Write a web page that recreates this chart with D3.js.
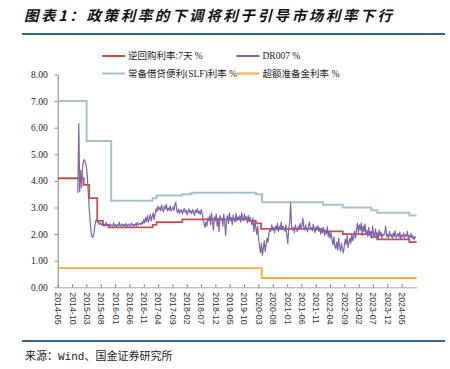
<!DOCTYPE html>
<html lang="zh">
<head>
<meta charset="UTF-8">
<title>政策利率的下调将利于引导市场利率下行</title>
<script src="https://d3js.org/d3.v7.min.js"></script>
<style>
  body { margin: 0; background: #fff; }
  svg { display: block; }
</style>
</head>
<body>
<svg width="450" height="369"></svg>
<script>

// 7天逆回购利率 (调整日期, %)
const repoDates = ["2014-05-01", "2015-02-01", "2015-04-01", "2015-06-25", "2015-08-25", "2015-10-23",
  "2017-02-03", "2017-03-16", "2017-12-14", "2019-11-18", "2020-02-03", "2020-03-30",
  "2022-01-17", "2022-08-15", "2023-06-13", "2023-08-15", "2024-07-22"];
const repoValues = [4.10, 3.85, 3.35, 2.50, 2.35, 2.25, 2.35, 2.45, 2.55, 2.50, 2.40, 2.20,
  2.10, 2.00, 1.90, 1.80, 1.70];

// 常备借贷便利(SLF)利率
const slfDates = ["2014-05-01", "2015-03-04", "2015-11-20", "2017-02-03", "2017-03-16", "2017-12-14",
  "2018-03-22", "2020-02-03", "2020-04-10", "2022-01-17", "2022-08-15", "2023-06-13",
  "2023-08-15", "2024-07-22"];
const slfValues = [7.00, 5.50, 3.25, 3.35, 3.45, 3.50, 3.55, 3.50, 3.20, 3.10, 3.00, 2.90, 2.80, 2.70];

// 超额准备金利率
const excessDates = ["2014-05-01", "2020-04-07"];
const excessValues = [0.72, 0.35];

// DR007, 每10天读取一次
const drStart = "2014-12-01";
const drStepDays = 10;
const drValues = [
  3.55, 6.15, 3.6, 4.4, 3.75, 4.5, 4.75, 4.8, 4.7, 4.55, 4.2, 3.6, 3.0, 2.5, 2.1, 1.9, 1.88, 2.0, 2.3, 2.5,
  2.55, 2.42, 2.48, 2.36, 2.42, 2.35,
  2.40, 2.31, 2.36, 2.30, 2.44, 2.32, 2.35, 2.29, 2.38, 2.31, 2.34, 2.30, 2.42, 2.31, 2.36, 2.28, 2.35, 2.32,
  2.45, 2.30, 2.33, 2.38, 2.30, 2.36, 2.31, 2.40, 2.29, 2.34, 2.37, 2.30, 2.35, 2.42, 2.31, 2.36, 2.33, 2.39,
  2.30, 2.44, 2.34, 2.38, 2.41, 2.35,
  2.45, 2.38, 2.55, 2.42, 2.62, 2.48, 2.70, 2.45, 2.58, 2.75, 2.50, 2.66, 2.80, 2.55,
  2.70, 2.95, 2.85, 3.05, 2.92,
  3.00, 2.88, 3.10, 2.92, 2.84, 3.05, 2.95, 3.12, 2.87, 2.98, 2.90, 3.06, 2.86, 2.95, 3.02, 2.88, 3.10, 3.20,
  2.90, 2.80, 2.95, 2.78, 2.88, 2.92, 2.75, 2.86, 2.97, 2.82, 2.90, 2.72, 2.85, 2.95, 2.80, 2.88, 2.76, 2.93,
  2.84, 2.70, 2.90, 2.82, 2.96, 2.78, 2.86, 2.74, 2.92, 2.80,
  2.55, 2.40, 2.25, 2.45, 2.30, 2.60, 2.50,
  2.70, 2.35, 2.80, 2.45, 2.15, 2.65, 2.50, 2.75, 2.30, 2.60, 2.10, 2.70, 2.55,
  2.60, 2.30, 2.75, 2.45, 1.95, 2.55, 2.70, 2.40, 2.80, 2.50, 2.62, 2.35, 2.72, 2.55, 2.45, 2.78, 2.50, 2.65,
  2.55, 2.70, 2.45, 2.80, 2.60, 2.50, 2.75, 2.58, 2.65, 2.42, 2.70, 2.55, 2.62, 2.48,
  2.35, 2.60, 2.10, 2.45, 2.25, 2.00, 2.30,
  1.80, 1.55, 1.30, 1.65, 1.20, 1.45, 1.75, 1.35, 1.60, 1.85, 1.70,
  2.05, 2.20, 2.10, 2.35, 2.15, 2.25, 2.05, 2.30, 2.18, 2.40, 2.10, 2.28, 2.20, 2.45, 2.15, 2.30, 2.22, 2.10,
  2.35, 1.95, 1.65,
  2.20, 2.45, 3.17,
  2.30, 2.15, 2.25, 2.05, 2.35, 2.20, 2.10, 2.28, 2.18, 2.40, 2.22, 2.30, 2.60, 2.25, 2.15, 2.35, 2.20, 2.08,
  2.30, 2.45, 2.18, 2.25, 2.12, 2.38, 2.20, 2.05, 2.28, 2.15, 2.32, 2.10, 2.24, 2.00,
  2.20, 2.05, 2.25, 1.95, 2.15, 2.00, 2.28, 1.90, 2.10, 1.85, 2.05,
  1.75, 1.60, 1.90, 1.55, 1.45, 1.70, 1.40, 1.85, 1.50, 1.35, 1.65, 1.45, 1.29, 1.55, 1.80, 1.60, 1.95, 1.50,
  1.70, 1.85, 1.65, 2.00, 1.75, 1.90, 2.10, 1.85,
  2.20, 2.40, 2.05, 2.35, 2.15, 2.42, 1.95, 2.30, 2.10, 2.38, 2.00,
  2.15, 1.90, 2.25, 1.95, 2.10, 1.85, 2.30, 2.00, 1.88, 2.20, 1.95, 2.05, 1.82, 2.15, 1.92, 2.08, 1.85, 2.00,
  1.95, 2.05, 2.30, 1.90, 2.00, 1.85, 2.10, 1.92, 1.98, 1.84, 2.05, 1.90, 2.12, 1.86, 1.95, 2.02, 1.88, 2.08,
  1.82, 1.96, 1.90, 2.05, 1.85, 1.98, 1.92, 2.10, 1.80, 1.95, 1.88, 2.02, 1.84, 1.93, 1.78, 1.90, 1.86
];

const tickLabels = ["2014-05", "2014-10", "2015-03", "2015-08", "2016-01", "2016-06", "2016-11", "2017-04",
  "2017-09", "2018-02", "2018-07", "2018-12", "2019-05", "2019-10", "2020-03", "2020-08", "2021-01",
  "2021-06", "2021-11", "2022-04", "2022-09", "2023-02", "2023-07", "2023-12", "2024-05"];
const yTicks = [0, 1, 2, 3, 4, 5, 6, 7, 8];

const startDate = "2014-05-01";
const endDate = "2024-10-08";

const parse = d3.timeParse("%Y-%m-%d");
const parseMonth = d3.timeParse("%Y-%m");

const svg = d3.select("svg");
const serif = "'Liberation Serif', 'Noto Sans CJK SC', serif";
const cjk = "'Noto Sans CJK SC', sans-serif";

// title and rules
svg.append("text")
    .attr("x", 24).attr("y", 21)
    .attr("font-family", cjk)
    .attr("font-size", 14.5)
    .attr("font-weight", "bold")
    .attr("font-style", "italic")
    .attr("letter-spacing", 2.6)
    .attr("fill", "#111")
    .text("图表1：政策利率的下调将利于引导市场利率下行");

svg.append("line")
    .attr("x1", 22).attr("x2", 445).attr("y1", 34).attr("y2", 34)
    .attr("stroke", "#36648b").attr("stroke-width", 2);

svg.append("line")
    .attr("x1", 22).attr("x2", 445).attr("y1", 341).attr("y2", 341)
    .attr("stroke", "#36648b").attr("stroke-width", 2);

svg.append("text")
    .attr("x", 25).attr("y", 360)
    .attr("font-family", "'Liberation Mono', 'Noto Sans CJK SC', monospace")
    .attr("font-size", 11)
    .attr("fill", "#222")
    .text("来源：Wind、国金证券研究所");

// scales
const x = d3.scaleTime()
    .domain([parse(startDate), parse(endDate)])
    .range([57.7, 416.7]);
const y = d3.scaleLinear().domain([0, 8]).range([287.3, 74.5]);

// step series
function stepSeries(dates, values) {
    const pts = dates.map((d, i) => ({ date: parse(d), value: values[i] }));
    pts.push({ date: parse(endDate), value: values[values.length - 1] });
    return pts;
}

const repo = stepSeries(repoDates, repoValues);
const slf = stepSeries(slfDates, slfValues);
const excess = stepSeries(excessDates, excessValues);
const dr007 = drValues.map((v, i) => ({
    date: d3.timeDay.offset(parse(drStart), i * drStepDays),
    value: v
}));

const stepLine = d3.line().x(d => x(d.date)).y(d => y(d.value)).curve(d3.curveStepAfter);
const plainLine = d3.line().x(d => x(d.date)).y(d => y(d.value));

// axes
const yAxis = svg.append("g")
    .attr("transform", "translate(57.7,0)")
    .call(d3.axisLeft(y).tickValues(yTicks).tickFormat(d3.format(".2f"))
        .tickSizeInner(3).tickSizeOuter(0).tickPadding(7));
yAxis.select(".domain").attr("stroke", "#7f7f7f");
yAxis.selectAll(".tick line").attr("stroke", "#7f7f7f");
yAxis.selectAll("text")
    .attr("font-family", serif)
    .attr("font-size", 9.5)
    .attr("fill", "#222");

const xAxis = svg.append("g")
    .attr("transform", "translate(0,287.3)")
    .call(d3.axisBottom(x).tickValues(tickLabels.map(parseMonth))
        .tickFormat(d3.timeFormat("%Y-%m"))
        .tickSizeInner(-3).tickSizeOuter(0));
xAxis.select(".domain").attr("stroke", "#a6a6a6");
xAxis.selectAll(".tick line").attr("stroke", "#7f7f7f");
xAxis.selectAll("text")
    .attr("font-family", "'Liberation Sans', Arial, sans-serif")
    .attr("font-size", 8.8)
    .attr("fill", "#333")
    .attr("text-anchor", "start")
    .attr("transform", "rotate(90)")
    .attr("x", 5)
    .attr("y", 0)
    .attr("dy", "0.35em");

// lines
svg.append("path").datum(excess)
    .attr("fill", "none").attr("stroke", "#f8ad3c").attr("stroke-width", 1.8)
    .attr("d", stepLine);

svg.append("path").datum(slf)
    .attr("fill", "none").attr("stroke", "#a5c2ca").attr("stroke-width", 2)
    .attr("d", stepLine);

svg.append("path").datum(repo)
    .attr("fill", "none").attr("stroke", "#c8504a").attr("stroke-width", 1.8)
    .attr("d", stepLine);

svg.append("path").datum(dr007)
    .attr("fill", "none").attr("stroke", "#8064a8").attr("stroke-width", 1.2)
    .attr("stroke-linejoin", "round")
    .attr("d", plainLine);

// legend
const legendItems = [
    { name: "逆回购利率:7天 %", color: "#c8504a", x: 102, y: 56 },
    { name: "DR007 %", color: "#8064a8", x: 236.5, y: 56 },
    { name: "常备借贷便利(SLF)利率 %", color: "#a5c2ca", x: 102, y: 73.5 },
    { name: "超额准备金利率 %", color: "#f8ad3c", x: 236.5, y: 73.5 }
];

const legend = svg.append("g");
legendItems.forEach(item => {
    legend.append("line")
        .attr("x1", item.x).attr("x2", item.x + 23)
        .attr("y1", item.y).attr("y2", item.y)
        .attr("stroke", item.color).attr("stroke-width", 2);
    legend.append("text")
        .attr("x", item.x + 26).attr("y", item.y + 3.3)
        .attr("font-family", serif)
        .attr("font-size", 9.5)
        .attr("fill", "#222")
        .text(item.name);
});

</script>
</body>
</html>
